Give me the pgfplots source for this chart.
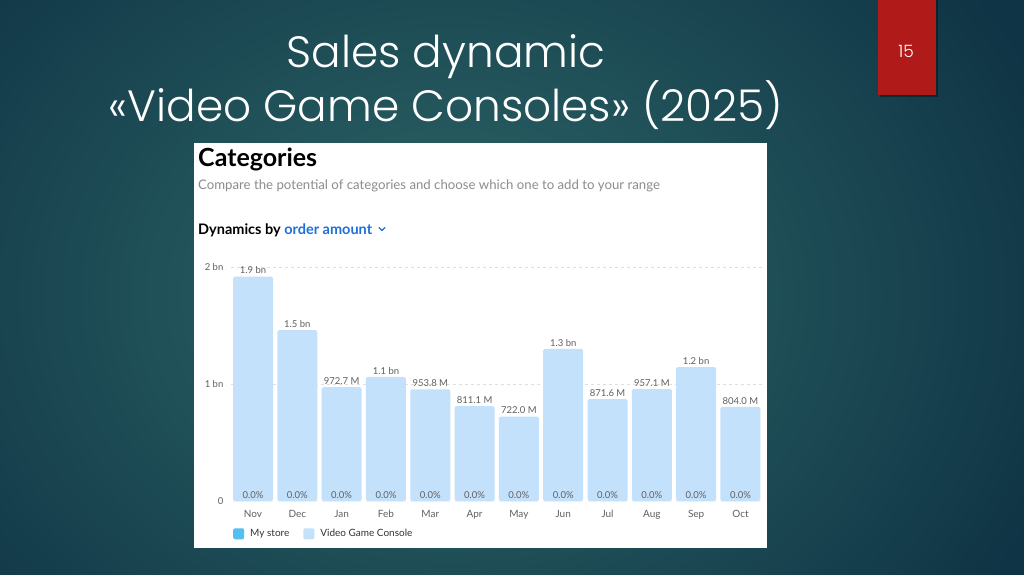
\documentclass[border=0pt]{standalone}
\usepackage{fontspec}
\setmainfont{Lato}
\newfontfamily\pop{Poppins}[UprightFont={* Light}]
\usepackage{pgfplots}
\usepackage{pgfplotstable}
\pgfplotsset{compat=1.18}
\definecolor{bgin}{HTML}{2E6868}
\definecolor{bgout}{HTML}{0F3445}
\definecolor{slidered}{HTML}{B01A18}
\definecolor{barblue}{HTML}{C4E1FB}
\definecolor{storeblue}{HTML}{52C1EF}
\definecolor{lblgray}{HTML}{606060}
\definecolor{subgray}{HTML}{8C8C8C}
\definecolor{linkblue}{HTML}{1F6FD8}

\pgfplotstableread[col sep=comma]{
x,y,lab
0,1.917,1.9 bn
1,1.46,1.5 bn
2,0.9727,972.7 M
3,1.06,1.1 bn
4,0.9538,953.8 M
5,0.8111,811.1 M
6,0.7220,722.0 M
7,1.30,1.3 bn
8,0.8716,871.6 M
9,0.9571,957.1 M
10,1.145,1.2 bn
11,0.8040,804.0 M
}\consoles

\pgfplotstableread{
x y
0 0
1 0
2 0
3 0
4 0
5 0
6 0
7 0
8 0
9 0
10 0
11 0
}\store

\begin{document}
\begin{tikzpicture}
\begin{scope}[x=1pt,y=-1pt]
\path[use as bounding box] (0,0) rectangle (1024,574);
\shade[inner color=bgin, outer color=bgout] (-200,-230) rectangle (1100,820);
% slide number box
\fill[black, opacity=0.35] (880,0) rectangle (938,97);
\fill[slidered] (878,0) rectangle (936,95);
\node[white, font=\pop\fontsize{17}{20}\selectfont] at (906,51) {15};
% title
\node[white, align=center, font=\pop\fontsize{43.8}{54}\selectfont] at (446,82) {Sales dynamic\\«Video Game Consoles» (2025)};
% panel
\fill[white] (194,143) rectangle (767,548);
\node[anchor=base west, inner sep=0, font=\bfseries\fontsize{25}{28}\selectfont] at (198,166) {Categories};
\node[anchor=base west, inner sep=0, text=subgray, font=\fontsize{13.2}{15}\selectfont] at (198,189) {Compare the potential of categories and choose which one to add to your range};
\node[anchor=base west, inner sep=0, font=\bfseries\fontsize{14.5}{17}\selectfont] at (198,234) {Dynamics by \textcolor{linkblue}{order amount}};
\draw[linkblue, line width=1.3, line cap=round, line join=round] (379,227.5) -- (382,230.5) -- (385,227.5);
\end{scope}
\begin{axis}[
  at={(230.9pt,-501pt)}, anchor=south west,
  scale only axis, width=531.7pt, height=234pt,
  xmin=-0.5, xmax=11.5, ymin=0, ymax=2,
  clip=false,
  axis line style={draw=none},
  tick style={draw=none},
  xtick={0,...,11},
  xticklabels={Nov,Dec,Jan,Feb,Mar,Apr,May,Jun,Jul,Aug,Sep,Oct},
  ytick={1,2},
  yticklabels={1 bn,2 bn},
  extra y ticks={0},
  extra y tick labels={0},
  extra y tick style={grid=none},
  ymajorgrids,
  grid style={gray!25, dash pattern=on 3pt off 3pt},
  ticklabel style={text=lblgray, font=\fontsize{10}{12}\selectfont},
  yticklabel style={font=\fontsize{9.5}{11}\selectfont},
  xticklabel shift=1.5pt,
  yticklabel shift=4pt,
  ybar, bar width=40pt,
  legend style={at={(0.004,-0.14)}, anchor=west, draw=none, fill=none,
    inner sep=0pt, font=\fontsize{10}{12}\selectfont, text=black!80,
    /tikz/every odd column/.append style={column sep=4pt},
    /tikz/every even column/.append style={column sep=12pt}},
  legend columns=2,
  legend image code/.code={\fill[#1, rounded corners=2pt] (0pt,-5.5pt) rectangle (11pt,5.5pt);},
]
\addplot[fill=storeblue, draw=none, bar shift=0pt] table[x=x,y=y]{\store};
\addlegendentry{My store}
\addplot[fill=barblue, draw=none, bar shift=0pt, rounded corners=1.5pt,
  nodes near coords, point meta=explicit symbolic,
  every node near coord/.append style={text=lblgray, font=\fontsize{9.5}{11}\selectfont, anchor=south, inner sep=2.5pt}]
  table[x=x,y=y,meta=lab, col sep=comma]{\consoles};
\addlegendentry{Video Game Console}
\addplot[draw=none, fill=none, bar shift=0pt, forget plot,
  nodes near coords={0.0\%},
  every node near coord/.append style={text=lblgray, font=\fontsize{9.5}{11}\selectfont, anchor=base, yshift=2.5pt}]
  table[x=x,y=y]{\store};
\end{axis}
\end{tikzpicture}
\end{document}
